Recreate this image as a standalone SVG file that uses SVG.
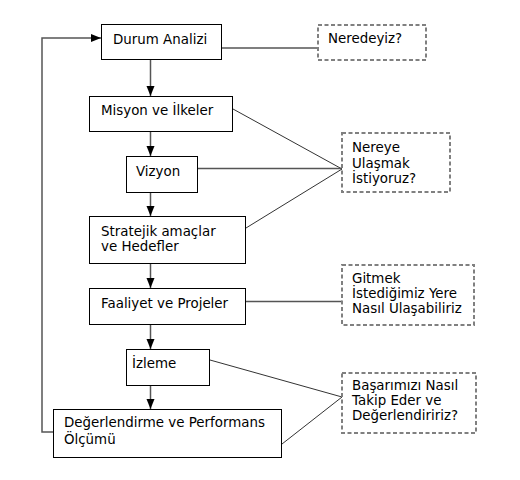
<svg xmlns="http://www.w3.org/2000/svg" width="520" height="480" viewBox="0 0 520 480">
<defs>
<style>
.box{fill:#fff;stroke:#000;stroke-width:1}
.q{fill:#fff;stroke:#808080;stroke-width:2;stroke-dasharray:4,2.5}
.t{font-family:"DejaVu Sans",Verdana,sans-serif;font-size:13.4px;fill:#000}
.c{fill:none;stroke:#555;stroke-width:1.5}
.cl{fill:none;stroke:#333;stroke-width:1}
</style>
<marker id="ah" markerUnits="userSpaceOnUse" markerWidth="10" markerHeight="10" viewBox="0 0 10 10" refX="10" refY="5" orient="auto">
<path d="M0,1 L10,5 L0,9 Z" fill="#000"/>
</marker>
</defs>
<rect width="520" height="480" fill="#fff"/>
<g id="connectors">
<path class="c" d="M150.5,59 V96" marker-end="url(#ah)"/>
<path class="c" d="M150.5,132 V156" marker-end="url(#ah)"/>
<path class="c" d="M150.5,193 V216" marker-end="url(#ah)"/>
<path class="c" d="M150.5,264 V288" marker-end="url(#ah)"/>
<path class="c" d="M150.5,325 V349" marker-end="url(#ah)"/>
<path class="c" d="M150.5,386 V409" marker-end="url(#ah)"/>
<path class="c" d="M53,432 H42 V38 H101" marker-end="url(#ah)"/>
<path class="c" d="M222,48 H318"/>
<path class="cl" d="M233,109 L342,169"/>
<path class="c" d="M198,168.5 H342"/>
<path class="cl" d="M246,228 L342,169"/>
<path class="c" d="M246,301.5 H342"/>
<path class="cl" d="M210,360 L342,397"/>
<path class="cl" d="M282,444 L342,397"/>
</g>
<g id="durum"><rect class="box" x="101.5" y="24.5" width="120" height="35"/><text class="t" x="113" y="44">Durum Analizi</text></g>
<g id="misyon"><rect class="box" x="89.5" y="96.5" width="143" height="35"/><text class="t" x="101" y="115">Misyon ve İlkeler</text></g>
<g id="vizyon"><rect class="box" x="126.5" y="156.5" width="71" height="36"/><text class="t" x="136" y="176">Vizyon</text></g>
<g id="stratejik"><rect class="box" x="89.5" y="216.5" width="156" height="47"/><text class="t" x="101" y="236">Stratejik amaçlar</text><text class="t" x="101" y="251">ve Hedefler</text></g>
<g id="faaliyet"><rect class="box" x="89.5" y="288.5" width="156" height="36"/><text class="t" x="101" y="308">Faaliyet ve Projeler</text></g>
<g id="izleme"><rect class="box" x="126.5" y="349.5" width="83" height="36"/><text class="t" x="132" y="368">İzleme</text></g>
<g id="degerlendirme"><rect class="box" x="53.5" y="409.5" width="228" height="48"/><text class="t" x="64" y="427">Değerlendirme ve Performans</text><text class="t" x="64" y="444">Ölçümü</text></g>
<g id="neredeyiz"><rect class="q" x="318" y="25" width="108" height="35"/><text class="t" x="328" y="43">Neredeyiz?</text></g>
<g id="nereye"><rect class="q" x="342" y="133" width="108" height="59"/><text class="t" x="352" y="152">Nereye</text><text class="t" x="352" y="168">Ulaşmak</text><text class="t" x="352" y="183">İstiyoruz?</text></g>
<g id="gitmek"><rect class="q" x="342" y="265" width="132" height="60"/><text class="t" x="352" y="283">Gitmek</text><text class="t" x="352" y="298">İstediğimiz Yere</text><text class="t" x="352" y="313">Nasıl Ulaşabiliriz</text></g>
<g id="basarimizi"><rect class="q" x="342" y="373" width="134" height="60"/><text class="t" x="352" y="390">Başarımızı Nasıl</text><text class="t" x="352" y="405">Takip Eder ve</text><text class="t" x="352" y="420">Değerlendiririz?</text></g>
</svg>
